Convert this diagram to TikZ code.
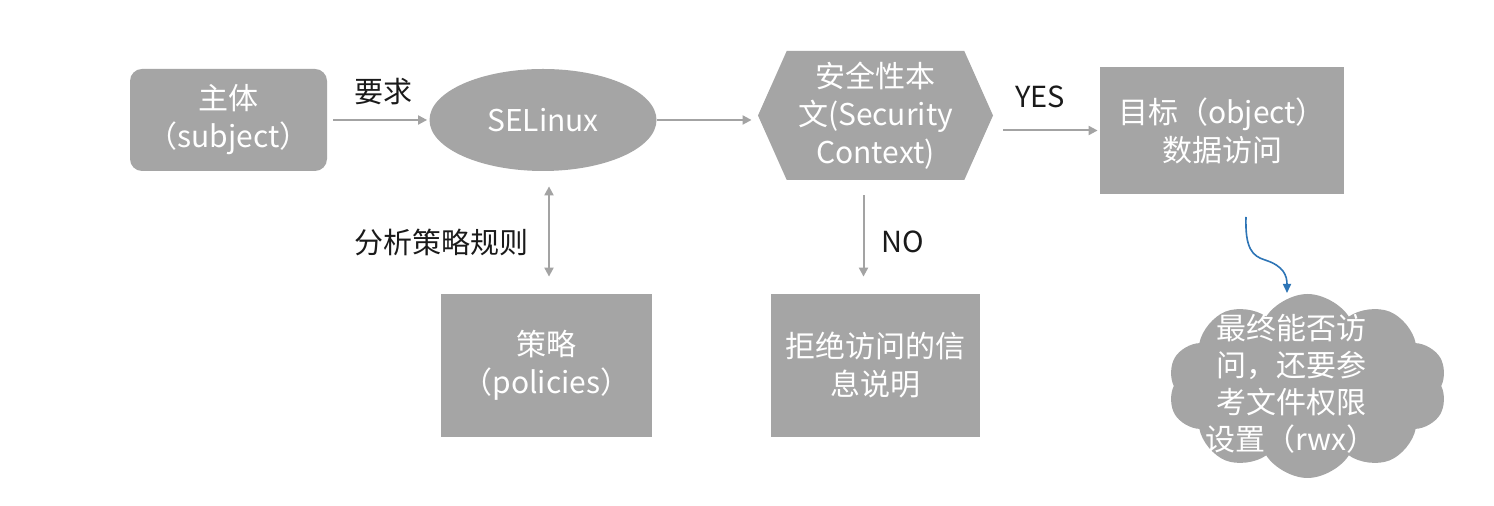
\documentclass[tikz,border=0pt]{standalone}
\usepackage{fontspec}
\setmainfont{Noto Sans CJK SC}
\usetikzlibrary{shapes.geometric,shapes.symbols,arrows.meta,calc}
\definecolor{boxgray}{HTML}{A5A5A5}
\definecolor{linegray}{HTML}{A3A3A3}
\definecolor{flowblue}{HTML}{2E75B6}
\definecolor{labelblack}{HTML}{1A1A1A}
\begin{document}
\begin{tikzpicture}[x=0.5pt,y=-0.5pt,
  box/.style={fill=boxgray,draw=none,text=white,align=center,
    font=\fontsize{15pt}{19pt}\selectfont,inner sep=0pt},
  conn/.style={draw=linegray,line width=1pt,-{Triangle[length=4.5pt,width=4.5pt]}},
  lbl/.style={text=labelblack,font=\fontsize{14.5pt}{18pt}\selectfont,inner sep=0pt}]
\fill[white] (0,0) rectangle (1494,506);
\useasboundingbox (0,0) rectangle (1494,506);

\node[box,rounded corners=6pt,minimum width=98.5pt,minimum height=51pt] (subj) at (228.5,120) {主体\\（subject）};
\node[box,ellipse,minimum width=113.5pt,minimum height=51pt] (sel) at (543,120) {SELinux};
\node[box,signal,signal to=east and west,signal pointer angle=132,
  minimum width=117.5pt,minimum height=64.5pt] (sc) at (875.5,115.5) {安全性本\\文(Security\\Context)};
\node[box,minimum width=122pt,minimum height=63.5pt] (tgt) at (1222,130.5) {目标（object）\\数据访问};
\node[box,minimum width=104.5pt,minimum height=71.5pt] (deny) at (875.5,365.5) {拒绝访问的信\\息说明};
\node[box,minimum width=105.5pt,minimum height=71.5pt] (pol) at (546.5,365.5) {策略\\（policies）};
\node[cloud,fill=boxgray,draw=none,cloud puffs=10,cloud puff arc=115,cloud ignores aspect,
  minimum width=139.5pt,minimum height=92pt,inner sep=0pt] (cld) at (1307.5,386) {};
\node[box,fill=none,font=\fontsize{15pt}{18.5pt}\selectfont] (cldtxt) at (1291,384) {最终能否访\\问，还要参\\考文件权限\\设置（rwx）};

\node[lbl] (lreq) at (383,92) {要求};
\node[lbl] (lana) at (441,242) {分析策略规则};
\node[lbl] (lyes) at (1040,97) {YES};
\node[lbl] (lno) at (903,242) {NO};

\draw[conn,shorten <=3pt,shorten >=1pt] (subj.east) -- (sel.west);
\draw[conn,shorten >=3pt] (sel.east) -- (sel.east -| sc.west);
\draw[conn,shorten <=5pt,shorten >=1pt] (sc.east |- tgt.west) -- (tgt.west);
\draw[conn,shorten <=7.5pt,shorten >=8.5pt] ([xshift=-6pt]sc.south) -- ([xshift=-6pt]sc.south |- deny.north);
\draw[conn,{Triangle[length=4.5pt,width=4.5pt]}-{Triangle[length=4.5pt,width=4.5pt]},shorten <=7.5pt,shorten >=8.5pt]
  ([xshift=1.25pt]pol.north |- sel.south) -- ([xshift=1.25pt]pol.north);

\coordinate (bstart) at (1246,217);
\coordinate (bend) at (1287,293);
\draw[flowblue,line width=0.8pt,-{Triangle[length=4.5pt,width=4pt]}]
  (bstart) .. controls (1245,248) and (1252,256) .. (1265,260)
  .. controls (1284,266) and (1287,276) .. (bend);
\end{tikzpicture}
\end{document}
